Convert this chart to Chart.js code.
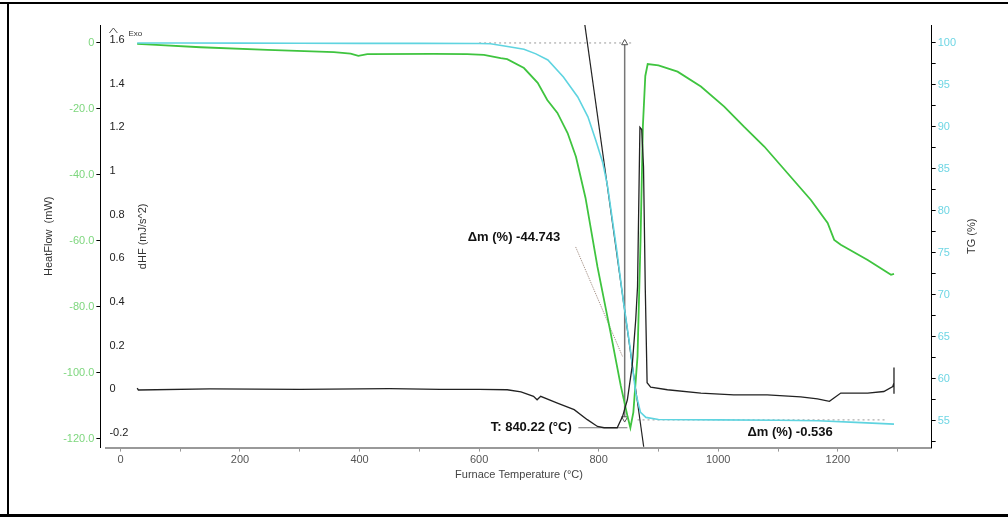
<!DOCTYPE html>
<html>
<head>
<meta charset="utf-8">
<script src="https://cdn.jsdelivr.net/npm/chart.js@4.4.0/dist/chart.umd.min.js"></script>
<style>
  html, body { margin: 0; padding: 0; background: #fff; }
  #wrap { position: relative; width: 1008px; height: 517px; overflow: hidden; }
  canvas { position: absolute; left: 0; top: 0; }
  .frame { position: absolute; background: #000; }
</style>
</head>
<body>
<div id="wrap">
  <canvas id="tga" width="1008" height="517"></canvas>
  <div class="frame" style="left:0;top:2px;width:1008px;height:2px"></div>
  <div class="frame" style="left:7px;top:2px;width:2px;height:514px"></div>
  <div class="frame" style="left:0;top:514px;width:1008px;height:3px"></div>
</div>
<script>
// TG (%) - cyan
var tgTemp = [28, 100, 200, 300, 400, 500, 600, 619, 645, 675, 695, 715, 741, 765, 782, 795, 807, 815, 830, 841, 853, 862, 870, 879, 900, 1000, 1100, 1167, 1230, 1294];
var tgVal  = [100, 99.99, 99.98, 99.97, 99.95, 99.95, 99.93, 99.9, 99.6, 99.25, 98.7, 97.98, 95.95, 93.57, 91.2, 88.45, 85.7, 82.9, 75.4, 69.4, 63.5, 58.3, 56.0, 55.4, 55.15, 55.1, 55.05, 55.0, 54.8, 54.6];

// HeatFlow (mW) - green
var hfTemp = [28, 60, 134, 246, 357, 385, 398, 413, 524, 580, 608, 636, 647, 675, 698, 714, 731, 748, 762, 778, 798, 820, 837, 848, 853, 858, 865, 870, 874, 878, 882, 900, 932, 971, 1010, 1043, 1077, 1116, 1155, 1183, 1194, 1205, 1250, 1289, 1294];
var hfVal  = [-0.3, -0.6, -1.3, -2.1, -2.8, -3.2, -3.9, -3.4, -3.3, -3.4, -3.6, -4.6, -4.9, -7.6, -12.1, -17.3, -21.2, -27.3, -34.5, -47, -67.9, -87.9, -104, -113, -116.7, -112, -95, -60, -25, -10, -6.4, -6.8, -8.7, -13.2, -19.3, -25.4, -31.4, -39.5, -47.6, -54.6, -59.7, -61.2, -65.8, -70.3, -70.0];

// dHF (mJ/s^2) - black
var dhfTemp = [28, 30, 150, 300, 450, 535, 600, 647, 670, 691, 697, 703, 731, 759, 781, 798, 809, 831, 840, 848, 856, 862, 865, 869, 872, 875, 878, 881, 887, 915, 971, 1026, 1082, 1138, 1166, 1186, 1205, 1250, 1277, 1292, 1294, 1294, 1294];
var dhfVal  = [0.005, -0.003, 0.002, 0.0, 0.003, 0.0, 0.0, -0.002, -0.012, -0.032, -0.048, -0.032, -0.063, -0.093, -0.139, -0.17, -0.176, -0.176, -0.124, -0.048, 0.105, 0.32, 0.47, 1.2, 1.19, 1.02, 0.456, 0.03, 0.01, -0.002, -0.017, -0.025, -0.025, -0.035, -0.044, -0.055, -0.017, -0.017, -0.01, 0.013, 0.03, 0.1, -0.02];

// tick labels
var tempTicks = [0, 100, 200, 300, 400, 500, 600, 700, 800, 900, 1000, 1100, 1200, 1300];
var hfTicks = [0, -20, -40, -60, -80, -100, -120];
var dhfTicks = [1.6, 1.4, 1.2, 1, 0.8, 0.6, 0.4, 0.2, 0, -0.2];
var tgTicks = [52.5, 55, 57.5, 60, 62.5, 65, 67.5, 70, 72.5, 75, 77.5, 80, 82.5, 85, 87.5, 90, 92.5, 95, 97.5, 100];

// analysis results
var stepTemp = 843.5;      // mass step marker
var stepStart = 100;       // TG before step
var stepEnd = 55.26;       // TG after step
var inflection = 840.22;
var tangentTemp = [776.6, 875.3];
var tangentTG = [102.3, 51.9];

function pts(xs, ys) {
  return xs.map(function (x, i) { return {x: x, y: ys[i]}; });
}

Chart.defaults.font.family = '"Liberation Sans", Arial, sans-serif';
Chart.defaults.font.size = 11;

var notes = [
  {text: '\u0394m (%) -44.743', x: 581, y: 76.8, axis: 'yTG', align: 'left'},
  {text: 'T: 840.22 (\u00b0C)', x: 755, y: -0.176, axis: 'yD', align: 'right'},
  {text: '\u0394m (%) -0.536', x: 1049, y: 53.57, axis: 'yTG', align: 'left'}
];

var annotate = {
  id: 'annotate',
  afterDatasetsDraw: function (chart) {
    var ctx = chart.ctx, area = chart.chartArea, s = chart.scales;
    ctx.save();
    ctx.fillStyle = '#111';
    ctx.font = 'bold 13px "Liberation Sans", Arial, sans-serif';
    ctx.textBaseline = 'middle';
    notes.forEach(function (n) {
      ctx.textAlign = n.align;
      ctx.fillText(n.text, s.x.getPixelForValue(n.x), s[n.axis].getPixelForValue(n.y));
    });

    var midY = (area.top + area.bottom) / 2;
    ctx.font = '11px "Liberation Sans", Arial, sans-serif';
    ctx.fillStyle = '#333';
    ctx.textAlign = 'center';
    // dHF title sits inside the plot
    ctx.save();
    ctx.translate(s.yD.right + 37, midY);
    ctx.rotate(-Math.PI / 2);
    ctx.fillText('dHF (mJ/s^2)', 0, 0);
    ctx.restore();
    // TG title reads bottom to top
    ctx.save();
    ctx.translate(s.yTG.right + 14, midY);
    ctx.rotate(-Math.PI / 2);
    ctx.fillText('TG (%)', 0, 0);
    ctx.restore();

    // Exo marker
    var ex = s.yD.right;
    ctx.font = '8px "Liberation Sans", Arial, sans-serif';
    ctx.textAlign = 'left';
    ctx.fillText('Exo', ex + 22, area.top + 9);
    ctx.strokeStyle = '#555';
    ctx.lineWidth = 1;
    ctx.beginPath();
    ctx.moveTo(ex + 3, area.top + 8);
    ctx.lineTo(ex + 7, area.top + 3);
    ctx.lineTo(ex + 11, area.top + 8);
    ctx.stroke();
    ctx.restore();
  }
};

function line(data, axis, color, width, dash) {
  return {
    data: data, yAxisID: axis, showLine: true,
    borderColor: color, backgroundColor: color,
    borderWidth: width, borderDash: dash || [],
    pointRadius: 0, tension: 0
  };
}

var arrow = line(pts([stepTemp, stepTemp], [stepStart, stepEnd]), 'yTG', '#777', 1.5);
arrow.pointStyle = 'triangle';
arrow.pointRadius = 3.5;
arrow.pointBorderWidth = 1;
arrow.pointBackgroundColor = '#fff';
arrow.pointBorderColor = '#555';
arrow.rotation = function (c) { return c.dataIndex === 0 ? 0 : 180; };

new Chart(document.getElementById('tga'), {
  type: 'scatter',
  data: {
    datasets: [
      line(pts(dhfTemp, dhfVal), 'yD', '#222', 1.3),
      line(pts(tgTemp, tgVal), 'yTG', '#5fd4e0', 1.6),
      line(pts(hfTemp, hfVal), 'yHF', '#3fc43f', 1.8),
      line(pts(tangentTemp, tangentTG), 'yTG', '#222', 1.2),
      arrow,
      line(pts([600, 858], [stepStart, stepStart]), 'yTG', '#999', 1, [2, 3]),
      line(pts([865, 1280], [55.1, 55.1]), 'yTG', '#999', 1, [2, 3]),
      line(pts([761.5, inflection], [75.7, 62.6]), 'yTG', '#9a8478', 1, [1, 1]),
      line(pts([766, 848], [-0.176, -0.176]), 'yD', '#777', 1.2)
    ]
  },
  options: {
    responsive: false,
    animation: false,
    layout: { padding: { left: 42, right: 50, top: 25, bottom: 35 } },
    plugins: { legend: { display: false }, tooltip: { enabled: false } },
    scales: {
      x: {
        type: 'linear', min: -23.5, max: 1357,
        afterBuildTicks: function (sc) { sc.ticks = tempTicks.map(function (v) { return {value: v}; }); },
        ticks: { autoSkip: false, maxRotation: 0, color: '#555', padding: 2,
          callback: function (v) { return v % 200 === 0 ? String(v) : ''; } },
        grid: { drawOnChartArea: false, color: '#999', tickLength: 4 },
        border: { color: '#999', width: 2 },
        title: { display: true, text: 'Furnace Temperature (\u00b0C)', color: '#444', padding: {top: 0, bottom: 0} }
      },
      yHF: {
        type: 'linear', position: 'left', weight: 1, min: -122.7, max: 5.45,
        afterBuildTicks: function (sc) { sc.ticks = hfTicks.map(function (v) { return {value: v}; }); },
        ticks: { autoSkip: false, color: '#7dd67d', padding: 2,
          callback: function (v) { return v === 0 ? '0' : v.toFixed(1); } },
        grid: { drawOnChartArea: false, tickLength: 4, color: '#000' },
        border: { color: '#000' },
        title: { display: true, text: 'HeatFlow  (mW)', color: '#333', padding: {top: 0, bottom: 6} }
      },
      yD: {
        type: 'linear', position: 'left', weight: 0, min: -0.267, max: 1.669,
        afterBuildTicks: function (sc) { sc.ticks = dhfTicks.map(function (v) { return {value: v}; }); },
        ticks: { autoSkip: false, mirror: true, padding: 3, color: '#222',
          callback: function (v) { return String(+v.toFixed(1)); } },
        grid: { drawOnChartArea: false, drawTicks: false },
        border: { display: false }
      },
      yTG: {
        type: 'linear', position: 'right', min: 51.8, max: 102.14,
        afterBuildTicks: function (sc) { sc.ticks = tgTicks.map(function (v) { return {value: v}; }); },
        ticks: { autoSkip: false, color: '#6fd6e4', padding: 2,
          callback: function (v) { return v % 5 === 0 ? String(v) : ''; } },
        grid: { drawOnChartArea: false, tickLength: 4, color: '#000' },
        border: { color: '#000' }
      }
    }
  },
  plugins: [annotate]
});
</script>
</body>
</html>
